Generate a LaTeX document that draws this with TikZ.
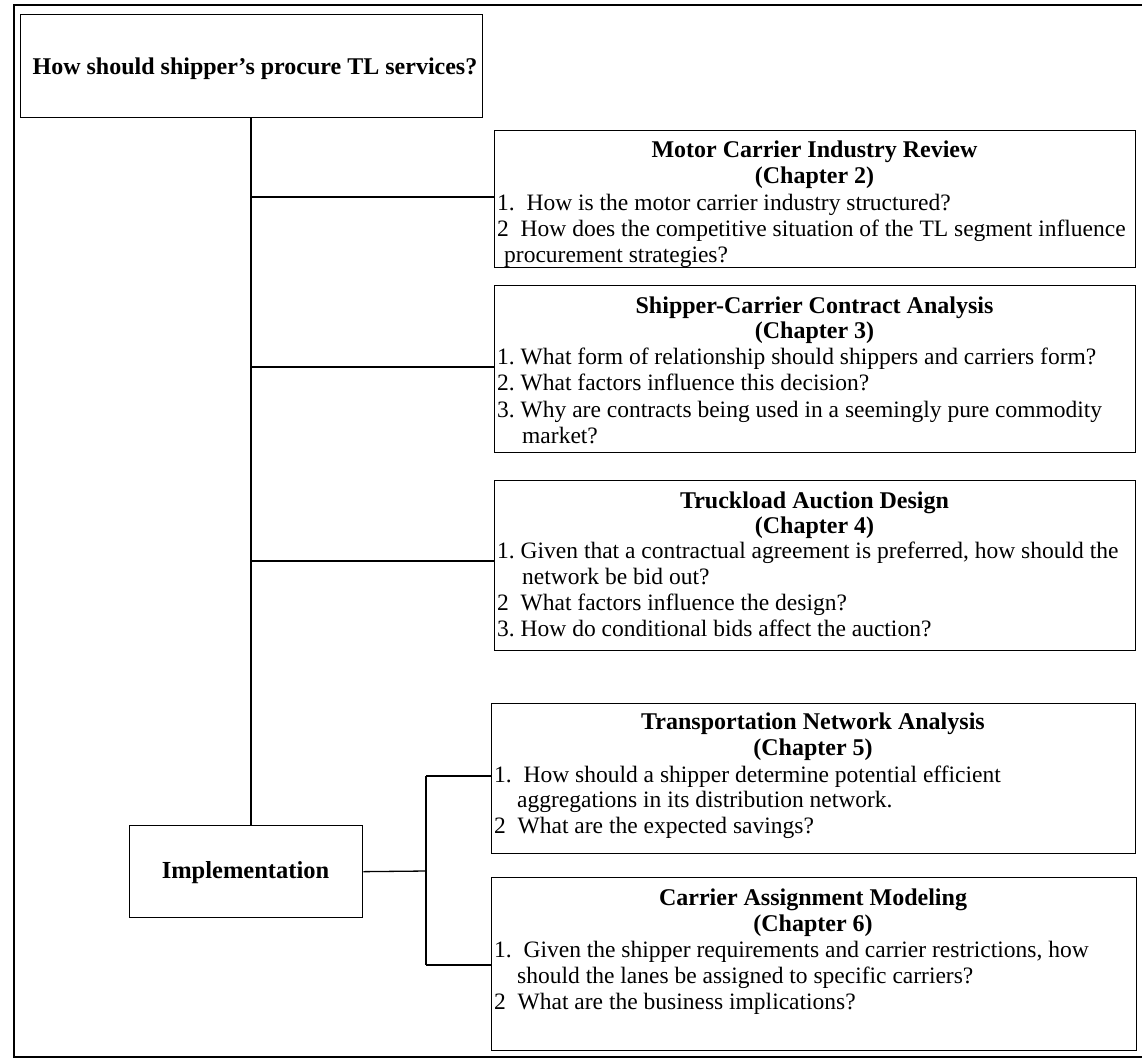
\documentclass[tikz,border=0pt]{standalone}
\usepackage{fontspec}
\setmainfont{Liberation Serif}
\newcommand\itmfont{\fontsize{23.5}{26}\selectfont}
\newcommand\ttlfont{\fontsize{24}{26}\selectfont\bfseries}
\tikzset{
  box/.style={draw, line width=1.3pt, inner sep=0pt, anchor=north west},
  frameline/.style={line width=2pt},
  conn/.style={line width=1.3pt},
  ttl/.style={font=\ttlfont, anchor=mid, inner sep=0pt, yshift=-5pt},
  itm/.style={font=\itmfont, anchor=mid west, inner sep=0pt, yshift=-5pt},
}
\begin{document}
\begin{tikzpicture}[x=1pt,y=-1pt]
\useasboundingbox (0,0) rectangle (1142,1061);
% outer frame
\draw[frameline] (1142,5) -- (14,5) -- (14,1057) -- (1142,1057);

% top question box
\node[box, minimum width=462pt, minimum height=103pt] (top) at (20,14) {};
\node[ttl] (toptxt) at (255,67) {How should shipper's procure TL services?};

% implementation box
\node[box, minimum width=233pt, minimum height=92pt] (impl) at (129,825) {};
\node[ttl, font=\fontsize{24.5}{26}\selectfont\bfseries] (impltxt) at (245.5,871) {Implementation};

% Box 1
\node[box, minimum width=641pt, minimum height=137pt] (b1) at (494,130) {};
\node[ttl] (b1t) at (814.5,150) {Motor Carrier Industry Review};
\node[ttl] (b1c) at (814.5,176) {(Chapter 2)};
\node[itm] (b1i1) at (497,203) {1.\ \ How is the motor carrier industry structured?};
\node[itm] (b1i2) at (497,229) {2\ \ How does the competitive situation of the TL segment influence};
\node[itm] (b1i2b) at (504,255) {procurement strategies?};

% Box 2
\node[box, minimum width=641pt, minimum height=167pt] (b2) at (494,285) {};
\node[ttl] (b2t) at (814.5,306) {Shipper-Carrier Contract Analysis};
\node[ttl] (b2c) at (814.5,331) {(Chapter 3)};
\node[itm] (b2i1) at (497,357) {1.\ What form of relationship should shippers and carriers form?};
\node[itm] (b2i2) at (497,383) {2.\ What factors influence this decision?};
\node[itm] (b2i3) at (497,410) {3.\ Why are contracts being used in a seemingly pure commodity};
\node[itm] (b2i3b) at (522,436) {market?};

% Box 3
\node[box, minimum width=641pt, minimum height=170pt] (b3) at (494,480) {};
\node[ttl] (b3t) at (814.5,501) {Truckload Auction Design};
\node[ttl] (b3c) at (814.5,526) {(Chapter 4)};
\node[itm] (b3i1) at (497,551) {1.\ Given that a contractual agreement is preferred, how should the};
\node[itm] (b3i1b) at (522,577) {network be bid out?};
\node[itm] (b3i2) at (497,603) {2\ \ What factors influence the design?};
\node[itm] (b3i3) at (497,629) {3.\ How do conditional bids affect the auction?};

% Box 5
\node[box, minimum width=644pt, minimum height=150pt] (b5) at (491,703) {};
\node[ttl] (b5t) at (813,722) {Transportation Network Analysis};
\node[ttl] (b5c) at (813,748) {(Chapter 5)};
\node[itm] (b5i1) at (494,775) {1.\ \ How should a shipper determine potential efficient};
\node[itm] (b5i1b) at (517,800) {aggregations in its distribution network.};
\node[itm] (b5i2) at (494,826) {2\ \ What are the expected savings?};

% Box 6
\node[box, minimum width=645pt, minimum height=173pt] (b6) at (491,877) {};
\node[ttl] (b6t) at (813,898) {Carrier Assignment Modeling};
\node[ttl] (b6c) at (813,924) {(Chapter 6)};
\node[itm] (b6i1) at (494,950) {1.\ \ Given the shipper requirements and carrier restrictions, how};
\node[itm] (b6i1b) at (517,976) {should the lanes be assigned to specific carriers?};
\node[itm] (b6i2) at (494,1002) {2\ \ What are the business implications?};

% entry points
\coordinate (e1) at (494,197);
\coordinate (e2) at (494,367);
\coordinate (e3) at (494,561);
\coordinate (e5) at (491,776);
\coordinate (e6) at (491,965);
\coordinate (fork) at (426,871);

% connectors
\draw[conn] (top.south -| 251,0) -- (251,825);
\draw[conn] (251,0 |- e1) -- (e1);
\draw[conn] (251,0 |- e2) -- (e2);
\draw[conn] (251,0 |- e3) -- (e3);
\draw[conn] (impl.east) -- (fork);
\draw[conn] (fork |- e5) -- (fork |- e6);
\draw[conn] (fork |- e5) -- (e5);
\draw[conn] (fork |- e6) -- (e6);
\end{tikzpicture}
\end{document}
